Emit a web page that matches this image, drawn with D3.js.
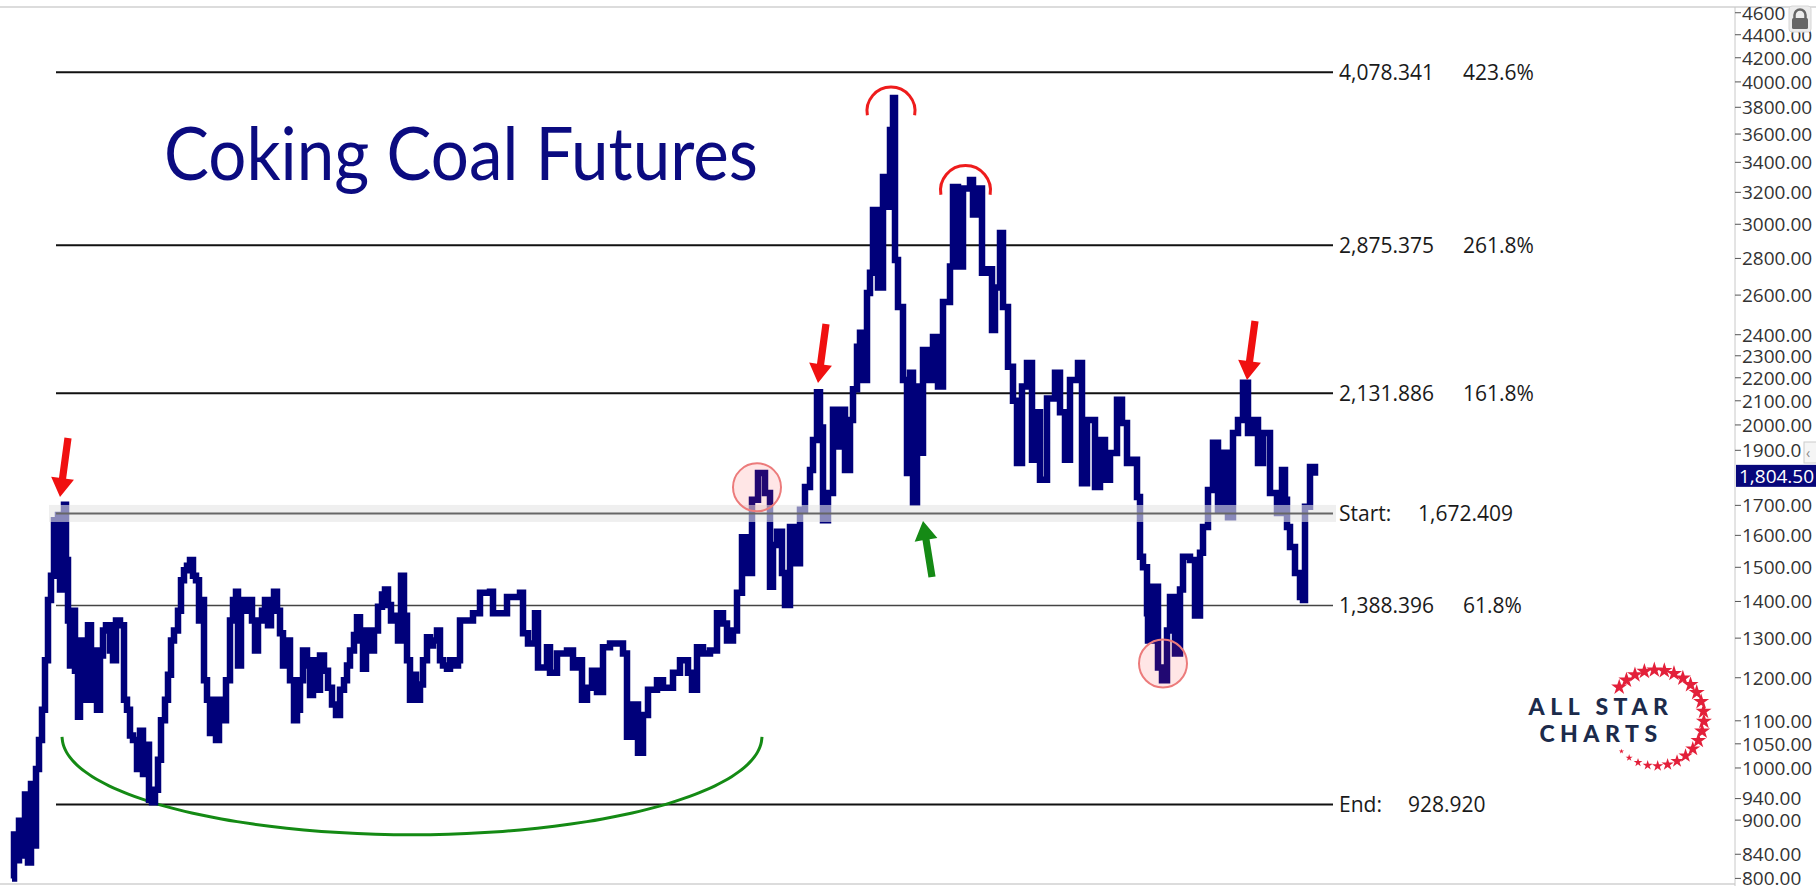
<!DOCTYPE html>
<html>
<head>
<meta charset="utf-8">
<script src="https://cdn.jsdelivr.net/npm/d3@7"></script>
<style>
  body { margin: 0; background: #fff; }
  svg { display: block; }
</style>
</head>
<body>
<div id="chart"></div>
<script>
// Trading day index and close price
const day = [0,2,5,7,10,13,16,19,22,24,27,30,33,36,39,42,44,46,48,50,52,54,56,58,60,63,66,68,71,74,76,79,82,85,88,91,94,98,101,104,108,112,115,118,121,125,128,131,134,137,140,143,146,149,153,156,159,162,166,169,172,175,178,181,184,187,189,192,195,198,201,204,207,210,214,218,221,224,226,229,233,237,240,243,246,250,253,256,259,262,265,268,271,274,278,282,285,288,291,295,298,301,304,308,312,316,320,324,328,332,335,338,342,345,348,351,354,358,362,366,370,373,376,379,383,386,389,392,395,398,401,404,408,411,415,418,421,425,428,431,435,438,442,446,
  448,455,461,468,478,481,488,495,508,511,516,523,526,535,538,545,555,561,565,570,575,580,585,591,598,605,611,615,620,626,631,636,645,651,661,668,676,680,685,691,698,705,711,715,721,725,730,735,740,746,753,758,761,765,770,773,778,783,788,793,798,801,805,808,811,816,821,826,830,833,838,841,845,848,851,855,858,861,866,871,876,878,881,883,886,891,895,898,901,905,908,911,916,921,926,931,938,941,946,951,958,961,966,970,975,980,983,988,991,996,1001,1005,1010,1015,1020,1025,1028,1035,1043,1048,1053,1058,1066,1070,1075,1083,1088,1093,1098,1105,1110,1115,1121,1125,1128,1131,1135,1136,1141,1146,1150,1155,1158,1163,1168,1171,1178,1183,1188,1191,1196,1201,1206,1211,1216,1221,1226,1231,1236,1241,1246,1251,1258,1265,1270,1273,1275,1278,1283,1288,1291,1293,1298,1303];
const close = [800,874,830,899,838,948,826,968,855,998,1058,1125,1243,1404,1475,1650,1617,1667,1434,1650,1702,1522,1347,1230,1374,1217,1109,1294,1148,1255,1334,1148,1268,1125,1255,1320,1334,1268,1243,1347,1334,1148,1125,1068,1058,998,1078,988,1048,938,933,957,1017,1101,1148,1207,1294,1320,1374,1461,1491,1505,1522,1475,1461,1347,1404,1194,1148,1073,1148,1058,1148,1101,1194,1347,1404,1428,1230,1404,1374,1404,1347,1268,1347,1374,1404,1334,1390,1428,1374,1313,1230,1294,1194,1101,1125,1194,1268,1230,1159,1243,1171,1255,1217,1176,1137,1113,1171,1194,1230,1268,1308,1356,1294,1222,1320,1268,1320,1385,1420,1434,1390,1347,1360,1294,1475,1360,1243,1148,1207,1148,1184,1243,1302,1281,1294,1320,1243,1230,1222,1243,1230,1243,
  1347,1347,1367,1425,1428,1367,1367,1413,1425,1313,1286,1367,1225,1276,1212,1260,1268,1225,1243,1148,1176,1217,1166,1276,1286,1286,1260,1065,1137,1031,1113,1171,1194,1176,1212,1243,1212,1171,1276,1260,1268,1367,1339,1294,1320,1425,1594,1483,1719,1815,1743,1442,1569,1612,1483,1390,1627,1512,1685,1764,1826,1940,2137,1990,1650,1743,2062,1915,2062,1826,2020,2150,2342,2409,2190,2611,2720,3088,2640,3300,3108,3630,3872,2791,2538,2190,1815,2222,1709,2162,1891,2327,2190,2389,2162,2564,2755,3234,2755,3225,3281,3060,3225,2720,2740,2423,2640,2948,2538,2249,2100,1852,2162,2267,1864,2052,1790,2110,2222,2052,1864,2190,2267,1778,2020,1764,1940,1790,1890,2104,2008,1852,1864,1729,1532,1500,1367,1294,1442,1225,1194,1320,1413,1260,1434,1532,1522,1361,1545,1627,1754,1929,1685,1891,1660,1968,2020,2178,1968,2020,1852,1968,1743,1674,1826,1719,1627,1563,1483,1413,1404,1695,1837,1804.5];
const lastPrice = 1804.5;
const lastLabel = "1,804.50";

// Fibonacci levels and their labels
const fibLevels = [4078.341, 2875.375, 2131.886, 1672.409, 1388.396, 928.920];
const fibLabelA = ["4,078.341", "2,875.375", "2,131.886", "Start:", "1,388.396", "End:"];
const fibLabelB = ["423.6%", "261.8%", "161.8%", "1,672.409", "61.8%", "928.920"];

// Right axis ticks
const tickValues = [4600,4400,4200,4000,3800,3600,3400,3200,3000,2800,2600,2400,2300,2200,2100,2000,1900,1700,1600,1500,1400,1300,1200,1100,1050,1000,940,900,840,800];
const tickLabels = ["4600","4400.00","4200.00","4000.00","3800.00","3600.00","3400.00","3200.00","3000.00","2800.00","2600.00","2400.00","2300.00","2200.00","2100.00","2000.00","1900.0","1700.00","1600.00","1500.00","1400.00","1300.00","1200.00","1100.00","1050.00","1000.00","940.00","900.00","840.00","800.00"];

// Annotations in data space: [day, price]
const redArrows = [[48, 1729], [806, 2177], [1235, 2190]];
const greenArrow = [911, 1647];
const redCaps = [[879, 3771, 24], [953.5, 3212, 25]];
const pinkCircles = [[745, 1763], [1151, 1235]];

const width = 1816, height = 886;
const axisX = 1735;
const plotTop = 7, plotBottom = 884;

const svg = d3.select("#chart").append("svg")
    .attr("width", width)
    .attr("height", height)
    .style("font-family", "'Open Sans', sans-serif");

// Scales
const x = d3.scaleLinear().domain([0, 1303]).range([12, 1315]);
const y = d3.scaleLog().domain([791, 4720]).range([plotBottom, 0]);

// Frame lines
svg.append("line").attr("x1", 0).attr("x2", width).attr("y1", plotTop).attr("y2", plotTop)
    .attr("stroke", "#d0d0d0").attr("stroke-width", 1.5);
svg.append("line").attr("x1", 0).attr("x2", axisX).attr("y1", plotBottom).attr("y2", plotBottom)
    .attr("stroke", "#d0d0d0").attr("stroke-width", 1.5);
svg.append("line").attr("x1", axisX).attr("x2", axisX).attr("y1", plotTop).attr("y2", height)
    .attr("stroke", "#c8c8c8").attr("stroke-width", 1);

const fibX1 = 56, fibX2 = 1333;

// Fibonacci lines (Start level drawn later, over the price)
fibLevels.forEach((v, i) => {
    if (i === 3) return;
    svg.append("line")
        .attr("x1", fibX1).attr("x2", fibX2)
        .attr("y1", y(v)).attr("y2", y(v))
        .attr("stroke", i === 4 ? "#444" : "#111")
        .attr("stroke-width", i === 4 ? 1.5 : 2);
});

// Green rounding-bottom arc
const smile = d3.range(0, 181, 3).map(a => {
    const t = a * Math.PI / 180;
    return [x(400) - 350 * Math.cos(t), y(1065) + 98 * Math.sin(t)];
});
svg.append("path")
    .attr("d", d3.line().curve(d3.curveBasis)(smile))
    .attr("fill", "none")
    .attr("stroke", "#148a14")
    .attr("stroke-width", 3);

// Price line
const idx = d3.range(day.length);
svg.append("path")
    .attr("d", d3.line().x(i => x(day[i])).y(i => y(close[i])).curve(d3.curveStepAfter)(idx))
    .attr("fill", "none")
    .attr("stroke", "#00007a")
    .attr("stroke-width", 6.5)
    .attr("stroke-linejoin", "miter");

// Start band over the price
const ys = y(fibLevels[3]);
svg.append("rect")
    .attr("x", 49).attr("y", ys - 8.5)
    .attr("width", fibX2 + 3 - 49).attr("height", 17)
    .attr("fill", "#e4e4e4").attr("opacity", 0.6);
svg.append("line")
    .attr("x1", fibX1).attr("x2", fibX2)
    .attr("y1", ys).attr("y2", ys)
    .attr("stroke", "#666").attr("stroke-width", 2);

// Pink circles
svg.selectAll(".pink").data(pinkCircles).enter().append("circle")
    .attr("cx", d => x(d[0])).attr("cy", d => y(d[1])).attr("r", 24)
    .attr("fill", "rgba(255,60,60,0.13)")
    .attr("stroke", "#ec7b7b").attr("stroke-width", 2);

// Red caps over the tops
redCaps.forEach(d => {
    svg.append("path")
        .attr("transform", `translate(${x(d[0])},${y(d[1])})`)
        .attr("d", d3.arc().innerRadius(d[2]).outerRadius(d[2])
            .startAngle(-100 * Math.PI / 180).endAngle(100 * Math.PI / 180)())
        .attr("fill", "none")
        .attr("stroke", "#ee1c1c").attr("stroke-width", 3);
});

// Arrow drawing helper: tail -> tip
function arrow(tx, ty, px, py, color) {
    const dx = px - tx, dy = py - ty, len = Math.hypot(dx, dy);
    const ux = dx / len, uy = dy / len, nx = -uy, ny = ux;
    const headL = 19, headW = 11.5, shaft = 3.6;
    const bx = px - ux * headL, by = py - uy * headL;
    const pts = [
        [tx + nx * shaft, ty + ny * shaft],
        [bx + nx * shaft, by + ny * shaft],
        [bx + nx * headW, by + ny * headW],
        [px, py],
        [bx - nx * headW, by - ny * headW],
        [bx - nx * shaft, by - ny * shaft],
        [tx - nx * shaft, ty - ny * shaft]
    ];
    svg.append("path").attr("d", "M" + pts.join("L") + "Z").attr("fill", color);
}
redArrows.forEach(d => arrow(x(d[0]) + 8, y(d[1]) - 59, x(d[0]), y(d[1]), "#f01010"));
arrow(x(greenArrow[0]) + 9, y(greenArrow[1]) + 56, x(greenArrow[0]), y(greenArrow[1]), "#158a15");

// Fibonacci labels
fibLevels.forEach((v, i) => {
    svg.append("text")
        .attr("x", 1339).attr("y", y(v)).attr("dy", "0.36em")
        .attr("font-size", 21).attr("fill", "#1a1a1a")
        .text(fibLabelA[i]);
    svg.append("text")
        .attr("x", i === 3 ? 1418 : (i === 5 ? 1408 : 1463)).attr("y", y(v)).attr("dy", "0.36em")
        .attr("font-size", 21).attr("fill", "#1a1a1a")
        .text(fibLabelB[i]);
});

// Title
svg.append("text")
    .attr("x", 164).attr("y", 180)
    .attr("font-family", "Lato, sans-serif")
    .attr("font-size", 74)
    .attr("textLength", 594)
    .attr("lengthAdjust", "spacingAndGlyphs")
    .attr("fill", "#0b0b80")
    .text("Coking Coal Futures");

// Right axis
const ticks = svg.append("g");
tickValues.forEach((v, i) => {
    ticks.append("line")
        .attr("x1", axisX).attr("x2", axisX + 6)
        .attr("y1", y(v)).attr("y2", y(v))
        .attr("stroke", "#555");
    ticks.append("text")
        .attr("x", axisX + 7).attr("y", y(v)).attr("dy", "0.36em")
        .attr("font-size", 19).attr("fill", "#333")
        .text(tickLabels[i]);
});

// Last price tag
svg.append("rect")
    .attr("x", axisX + 1).attr("y", y(lastPrice) - 11)
    .attr("width", width - axisX).attr("height", 22)
    .attr("fill", "#07077a");
svg.append("text")
    .attr("x", axisX + 4).attr("y", y(lastPrice)).attr("dy", "0.36em")
    .attr("font-size", 19).attr("fill", "#fff")
    .text(lastLabel);

// Small "<" handle box
svg.append("rect").attr("x", 1804).attr("y", 442).attr("width", 14).attr("height", 21)
    .attr("fill", "#f5f5f5").attr("stroke", "#ccc");
svg.append("text").attr("x", 1806).attr("y", 458).attr("font-size", 14).attr("fill", "#888").text("‹");

// Lock icon
svg.append("rect").attr("x", 1789).attr("y", 6).attr("width", 22).attr("height", 26).attr("rx", 3)
    .attr("fill", "#ececec").attr("stroke", "#d6d6d6");
svg.append("path").attr("d", "M1794.5,19 v-4 a5.5,5.5 0 0 1 11,0 v4")
    .attr("fill", "none").attr("stroke", "#666").attr("stroke-width", 2.5);
svg.append("rect").attr("x", 1792).attr("y", 18).attr("width", 16).attr("height", 11).attr("rx", 1.5)
    .attr("fill", "#666");

// All Star Charts logo
const logo = svg.append("g");
logo.append("text").attr("x", 1601).attr("y", 715).attr("text-anchor", "middle")
    .attr("font-family", "Lato, sans-serif").attr("font-weight", 900).attr("font-size", 23)
    .attr("letter-spacing", 5.5).attr("fill", "#1c2b4b").text("ALL STAR");
logo.append("text").attr("x", 1601).attr("y", 742).attr("text-anchor", "middle")
    .attr("font-family", "Lato, sans-serif").attr("font-weight", 900).attr("font-size", 23)
    .attr("letter-spacing", 5.5).attr("fill", "#1c2b4b").text("CHARTS");
const starAngles = d3.range(-140, 140, 12);
starAngles.forEach(a => {
    const t = a * Math.PI / 180;
    const s = a < 25 ? 80 : Math.max(8, 80 - (a - 25) * 0.65);
    logo.append("path")
        .attr("transform", `translate(${1656 + 48 * Math.cos(t)},${718 + 48 * Math.sin(t)})`)
        .attr("d", d3.symbol(d3.symbolStar, s)())
        .attr("fill", "#e3203a");
});
</script>
</body>
</html>
